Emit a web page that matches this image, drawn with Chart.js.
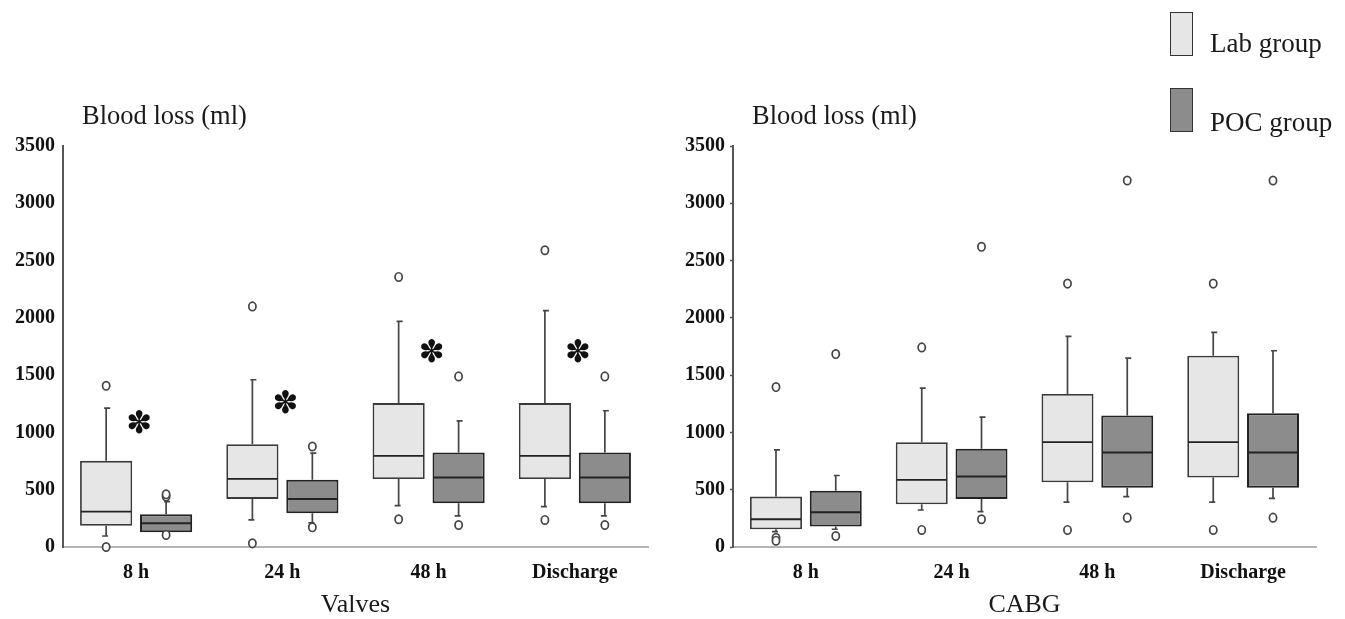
<!DOCTYPE html>
<html>
<head>
<meta charset="utf-8">
<script src="https://cdn.jsdelivr.net/npm/chart.js@4.4.1/dist/chart.umd.min.js"></script>
<style>
  html, body { margin: 0; padding: 0; background: #ffffff; width: 1345px; height: 619px; overflow: hidden; }
  canvas { position: absolute; top: 0; }
  .txt { position: absolute; font-family: "Liberation Serif", "Times New Roman", serif; color: #1a1a1a; white-space: nowrap; line-height: 1; }
  .ylab { font-size: 26.5px; top: 102px; }
  .legbox { position: absolute; width: 21px; height: 42px; border: 1.5px solid #333; }
  .legtxt { font-size: 27px; left: 1210px; }
</style>
</head>
<body>
<canvas id="valves" width="670" height="619" style="left:0px"></canvas>
<canvas id="cabg" width="675" height="619" style="left:670px"></canvas>
<div class="txt ylab" style="left:82px">Blood loss (ml)</div>
<div class="txt ylab" style="left:752px">Blood loss (ml)</div>
<div class="legbox" style="left:1170px; top:12px; background:#e6e6e6"></div>
<div class="legbox" style="left:1170px; top:88px; background:#8c8c8c"></div>
<div class="txt legtxt" style="top:30px">Lab group</div>
<div class="txt legtxt" style="top:109px">POC group</div>
<script>
// ---- data ----
const categories = ['8 h', '24 h', '48 h', 'Discharge'];
const yMin = 0;
const yMax = 3500;
const yStep = 500;
const seriesNames = ['Lab group', 'POC group'];

// Valves – Lab group
const valvesLabQ1 = [186, 420, 594, 594];
const valvesLabMedian = [309, 594, 795, 795];
const valvesLabQ3 = [752, 897, 1256, 1256];
const valvesLabLow = [96, 236, 361, 352];
const valvesLabHigh = [1212, 1460, 1970, 2063];
const valvesLabOutliers = [[1407, 0], [2100, 32], [2357, 242], [2590, 236]];
// Valves – POC group
const valvesPocQ1 = [128, 294, 382, 382];
const valvesPocMedian = [207, 420, 606, 606];
const valvesPocQ3 = [286, 586, 824, 824];
const valvesPocLow = [120, 210, 271, 271];
const valvesPocHigh = [396, 819, 1101, 1189];
const valvesPocOutliers = [[440, 460, 105], [877, 172], [1489, 192], [1489, 192]];
// Valves – significance marks (y position of asterisk)
const valvesSignif = [1093, 1267, 1713, 1713];

// CABG – Lab group
const cabgLabQ1 = [154, 373, 565, 606];
const cabgLabMedian = [242, 586, 915, 915];
const cabgLabQ3 = [440, 915, 1335, 1670];
const cabgLabLow = [134, 323, 391, 391];
const cabgLabHigh = [848, 1387, 1838, 1873];
const cabgLabOutliers = [[1396, 80, 55], [1742, 149], [2299, 149], [2299, 149]];
// CABG – POC group
const cabgPocQ1 = [178, 420, 518, 518];
const cabgPocMedian = [303, 615, 824, 824];
const cabgPocQ3 = [492, 857, 1148, 1168];
const cabgPocLow = [155, 309, 440, 425];
const cabgPocHigh = [624, 1134, 1649, 1713];
const cabgPocOutliers = [[1684, 96], [2620, 242], [3199, 256], [3199, 256]];
const cabgSignif = [null, null, null, null];

// ---- styles ----
const labFill = '#e6e6e6';
const pocFill = '#8c8c8c';
const serif = '"Liberation Serif", "Times New Roman", serif';

function makeDataset(label, q1, med, q3, low, high, out, fill, bw, bc, mw) {
  return {
    label: label,
    data: q1.map((v, i) => [v, q3[i]]),
    median: med, whiskerLow: low, whiskerHigh: high, outliers: out,
    medianWidth: mw,
    backgroundColor: fill,
    borderColor: bc,
    borderWidth: bw,
    borderSkipped: false,
    categoryPercentage: 0.82,
    barPercentage: 0.87
  };
}

function makePlugin(signif) {
  return {
    id: 'boxExtras',
    beforeDatasetsDraw(chart) {
      const ctx = chart.ctx, y = chart.scales.y;
      chart.data.datasets.forEach((ds, i) => {
        chart.getDatasetMeta(i).data.forEach((bar, j) => {
          const p = bar.getProps(['x', 'width'], true);
          const yq1 = y.getPixelForValue(ds.data[j][0]);
          const yq3 = y.getPixelForValue(ds.data[j][1]);
          const yl = y.getPixelForValue(ds.whiskerLow[j]);
          const yh = y.getPixelForValue(ds.whiskerHigh[j]);
          ctx.save();
          ctx.strokeStyle = '#454545';
          ctx.lineWidth = 1.7;
          ctx.beginPath();
          ctx.moveTo(p.x, yq3); ctx.lineTo(p.x, yh);
          ctx.moveTo(p.x - 2, yh); ctx.lineTo(p.x + 4, yh);
          ctx.moveTo(p.x, yq1); ctx.lineTo(p.x, yl);
          ctx.moveTo(p.x - 4, yl); ctx.lineTo(p.x + 2, yl);
          ctx.stroke();
          ctx.restore();
        });
      });
    },
    afterDatasetsDraw(chart) {
      const ctx = chart.ctx, y = chart.scales.y, xs = chart.scales.x;
      chart.data.datasets.forEach((ds, i) => {
        chart.getDatasetMeta(i).data.forEach((bar, j) => {
          const p = bar.getProps(['x', 'width'], true);
          const ym = y.getPixelForValue(ds.median[j]);
          ctx.save();
          ctx.strokeStyle = '#222';
          ctx.lineWidth = ds.medianWidth;
          ctx.beginPath();
          ctx.moveTo(p.x - p.width / 2 + 1, ym);
          ctx.lineTo(p.x + p.width / 2 - 1, ym);
          ctx.stroke();
          ds.outliers[j].forEach(v => {
            ctx.beginPath();
            ctx.ellipse(p.x, y.getPixelForValue(v), 3.6, 4.2, 0, 0, Math.PI * 2);
            ctx.fillStyle = '#ffffff';
            ctx.fill();
            ctx.strokeStyle = '#444';
            ctx.lineWidth = 1.7;
            ctx.stroke();
          });
          ctx.restore();
        });
      });
      ctx.save();
      ctx.font = 'bold 31px "DejaVu Sans"';
      ctx.fillStyle = '#111';
      ctx.textAlign = 'center';
      ctx.textBaseline = 'alphabetic';
      const mark = '\u273D';
      const m = ctx.measureText(mark);
      signif.forEach((v, j) => {
        if (v === null) return;
        const cx = xs.getPixelForValue(j) + 3;
        const cy = y.getPixelForValue(v);
        ctx.fillText(mark, cx, cy + (m.actualBoundingBoxAscent - m.actualBoundingBoxDescent) / 2);
      });
      ctx.restore();
    }
  };
}

function makeChart(id, title, datasets, signif, padRight, tickLen) {
  return new Chart(document.getElementById(id), {
    type: 'bar',
    data: { labels: categories, datasets: datasets },
    plugins: [makePlugin(signif)],
    options: {
      responsive: false,
      animation: false,
      events: [],
      layout: { padding: { left: 0, right: padRight, top: 146, bottom: 0 } },
      plugins: { legend: { display: false }, tooltip: { enabled: false }, title: { display: false } },
      scales: {
        x: {
          grid: { display: false, drawTicks: false },
          border: { display: true, color: '#b4b4b4', width: 2 },
          ticks: { color: '#111', padding: 14, font: { family: serif, size: 20, weight: 'bold' } },
          title: { display: true, text: title, color: '#1a1a1a', padding: { top: 0, bottom: 1 },
                   font: { family: serif, size: 26, lineHeight: 1 } },
          afterFit(s) { s.height = 72; }
        },
        y: {
          min: yMin, max: yMax,
          grid: { display: tickLen > 0, drawOnChartArea: false, drawTicks: tickLen > 0, tickLength: tickLen, color: '#555', tickWidth: 1.5 },
          border: { display: true, color: '#555', width: 2 },
          ticks: { stepSize: yStep, color: '#111', padding: 8 - tickLen,
                   callback: v => String(v),
                   font: { family: serif, size: 20, weight: 'bold' } },
          afterFit(s) { s.width = 63; }
        }
      }
    }
  });
}

makeChart('valves', 'Valves', [
  makeDataset(seriesNames[0], valvesLabQ1, valvesLabMedian, valvesLabQ3, valvesLabLow, valvesLabHigh, valvesLabOutliers, labFill, 1.8, '#3a3a3a', 1.8),
  makeDataset(seriesNames[1], valvesPocQ1, valvesPocMedian, valvesPocQ3, valvesPocLow, valvesPocHigh, valvesPocOutliers, pocFill, 2, '#222', 2)
], valvesSignif, 22, 0);

makeChart('cabg', 'CABG', [
  makeDataset(seriesNames[0], cabgLabQ1, cabgLabMedian, cabgLabQ3, cabgLabLow, cabgLabHigh, cabgLabOutliers, labFill, 1.8, '#3a3a3a', 1.8),
  makeDataset(seriesNames[1], cabgPocQ1, cabgPocMedian, cabgPocQ3, cabgPocLow, cabgPocHigh, cabgPocOutliers, pocFill, 2, '#222', 2)
], cabgSignif, 29, 3);
</script>
</body>
</html>
